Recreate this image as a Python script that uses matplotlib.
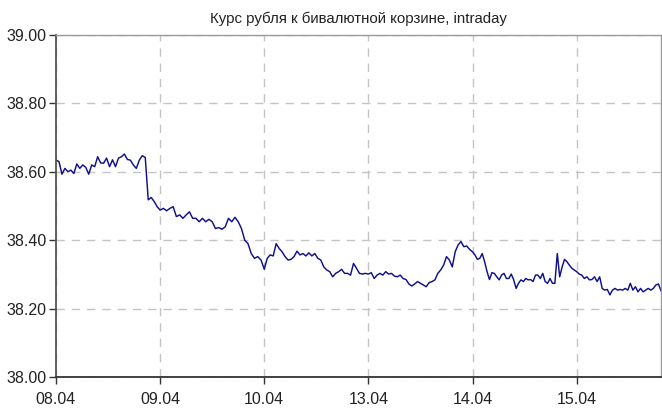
import numpy as np
import matplotlib
matplotlib.use("Agg")
import matplotlib.pyplot as plt

plt.rcParams['font.family'] = ['Liberation Sans Narrow', 'Liberation Sans', 'DejaVu Sans']

title = "Курс рубля к бивалютной корзине, intraday"
day_labels = ["08.04", "09.04", "10.04", "13.04", "14.04", "15.04"]
y_ticks = [38.0, 38.2, 38.4, 38.6, 38.8, 39.0]

d0804 = [38.634, 38.630, 38.593, 38.610, 38.600, 38.605, 38.595, 38.623, 38.610, 38.620,
         38.613, 38.593, 38.620, 38.615, 38.644, 38.626, 38.625, 38.640, 38.615, 38.635,
         38.615, 38.640, 38.644, 38.652, 38.636, 38.634, 38.620, 38.610, 38.634, 38.647,
         38.642, 38.518, 38.525, 38.513, 38.498]
d0904 = [38.488, 38.493, 38.486, 38.493, 38.498, 38.469, 38.474, 38.464, 38.474, 38.483,
         38.464, 38.464, 38.454, 38.464, 38.454, 38.461, 38.454, 38.434, 38.437, 38.432,
         38.439, 38.464, 38.454, 38.467, 38.454, 38.434, 38.400, 38.390, 38.361, 38.347,
         38.352, 38.342]
d1004 = [38.315, 38.347, 38.357, 38.354, 38.390, 38.376, 38.366, 38.352, 38.342, 38.344,
         38.352, 38.368, 38.357, 38.361, 38.354, 38.363, 38.354, 38.361, 38.347, 38.342,
         38.322, 38.313, 38.308, 38.293, 38.303, 38.308, 38.315, 38.303, 38.303, 38.298,
         38.332, 38.318, 38.303, 38.301, 38.303]
d1304 = [38.301, 38.305, 38.288, 38.298, 38.303, 38.298, 38.308, 38.301, 38.303, 38.295,
         38.293, 38.298, 38.288, 38.285, 38.272, 38.266, 38.272, 38.279, 38.274, 38.269,
         38.264, 38.276, 38.279, 38.284, 38.303, 38.313, 38.327, 38.352, 38.342, 38.322,
         38.366, 38.386, 38.396, 38.381, 38.383, 38.373]
d1404 = [38.366, 38.357, 38.344, 38.347, 38.361, 38.337, 38.308, 38.285, 38.305, 38.303,
         38.293, 38.284, 38.298, 38.303, 38.288, 38.288, 38.301, 38.284, 38.259, 38.274,
         38.284, 38.279, 38.288, 38.284, 38.285, 38.279, 38.298, 38.298, 38.288, 38.303,
         38.279, 38.274, 38.288, 38.274, 38.274, 38.361, 38.293, 38.322, 38.344, 38.337,
         38.327, 38.318, 38.313]
d1504 = [38.308, 38.301, 38.298, 38.288, 38.293, 38.284, 38.285, 38.293, 38.279, 38.293,
         38.259, 38.254, 38.256, 38.240, 38.254, 38.259, 38.254, 38.256, 38.254, 38.259,
         38.254, 38.274, 38.254, 38.264, 38.249, 38.259, 38.249, 38.254, 38.259, 38.254,
         38.259, 38.269, 38.272, 38.252]
last_session_fraction = 0.81  # share of 15.04 session covered so far

days = [d0804, d0904, d1004, d1304, d1404, d1504]
xs, ys = [], []
for k, vals in enumerate(days):
    n = len(vals)
    if k < len(days) - 1:
        x = k + np.arange(n) / n
    else:
        x = k + np.linspace(0, last_session_fraction, n)
    xs.append(x)
    ys.append(np.array(vals))
x_all = np.concatenate(xs)
y_all = np.concatenate(ys)

fig = plt.figure(figsize=(6.62, 4.08), dpi=100)
ax = fig.add_axes([56/662, 31/408, 605/662, 342/408])

ax.plot(x_all, y_all, color='#10108a', lw=1.05)

ax.set_xlim(0, last_session_fraction + len(days) - 1)
ax.set_ylim(38.0, 39.0)
ax.set_yticks(y_ticks)
ax.set_yticklabels([f"{v:.2f}" for v in y_ticks])
ax.set_xticks(range(len(day_labels)))
ax.set_xticklabels(day_labels)

ax.grid(True, color='#c4c4c4', linestyle=(0, (6, 5)), lw=1.0)
ax.set_axisbelow(True)
for s in ['top', 'right']:
    ax.spines[s].set_color('#9a9a9a')
    ax.spines[s].set_linewidth(1.0)
ax.spines['left'].set_color('#555555')
ax.spines['left'].set_linewidth(1.3)
ax.spines['bottom'].set_color('#333333')
ax.spines['bottom'].set_linewidth(1.3)
ax.tick_params(axis='both', direction='out', length=5, width=1, color='#333333',
               labelsize=11.5, labelcolor='#222222')
ax.tick_params(axis='x', pad=6)
ax.tick_params(axis='y', pad=2)

ax.set_title(title, fontsize=10.8, color='#222222', pad=9)

fig.savefig("out.png", dpi=100)
